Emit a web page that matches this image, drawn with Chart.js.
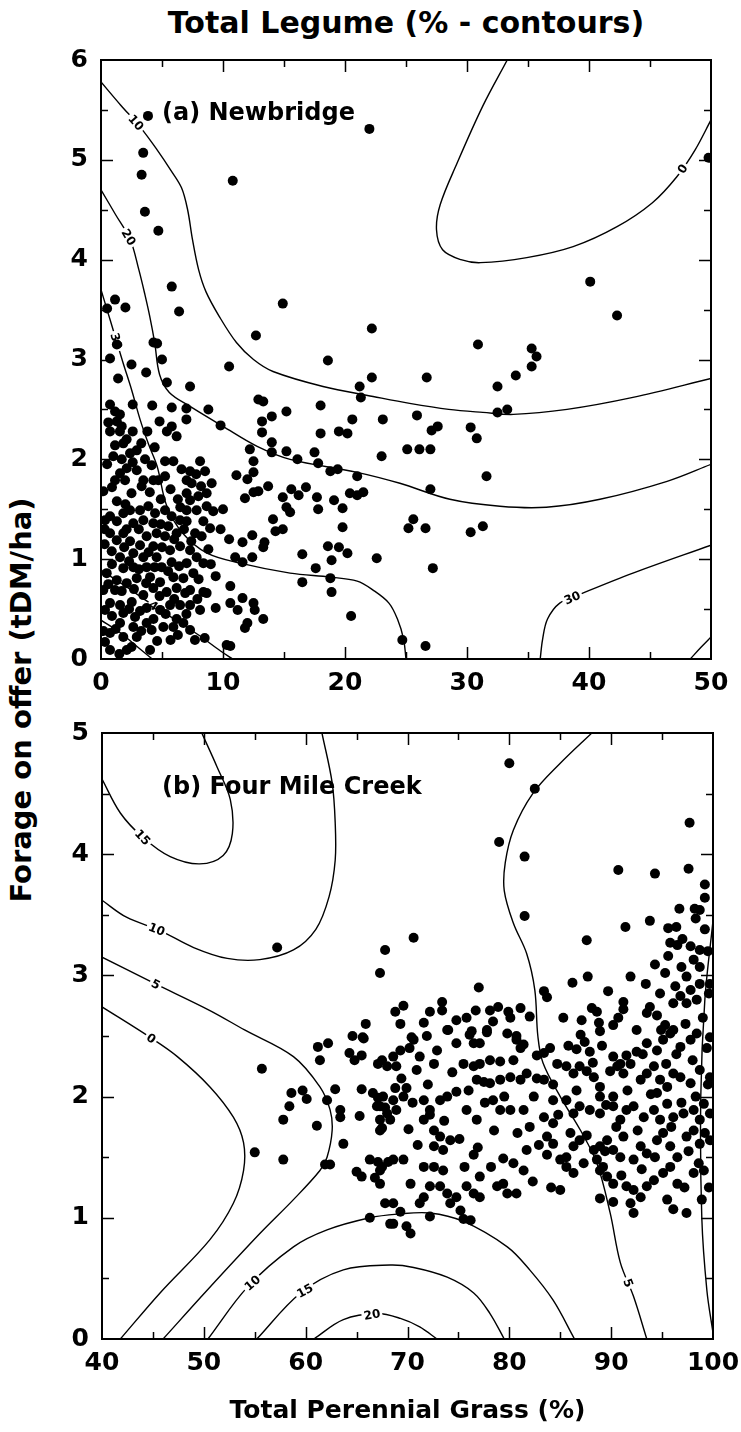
<!DOCTYPE html>
<html>
<head>
<meta charset="utf-8">
<script src="https://cdn.jsdelivr.net/npm/chart.js@4.4.1/dist/chart.umd.min.js"></script>
<style>
  body { margin: 0; background: #fff; }
  #page { position: relative; width: 741px; height: 1432px; overflow: hidden; font-family: "DejaVu Sans", sans-serif; }
  #title { position: absolute; left: 406px; top: 5px; transform: translateX(-50%); font-weight: bold; font-size: 30px; white-space: nowrap; }
  #ylab { position: absolute; left: 21px; top: 700px; transform: translate(-50%, -50%) rotate(-90deg); font-weight: bold; font-size: 29px; white-space: nowrap; }
  canvas { position: absolute; left: 0; }
</style>
</head>
<body>
<div id="page">
  <div id="title">Total Legume (% - contours)</div>
  <div id="ylab">Forage on offer (tDM/ha)</div>
  <canvas id="newbridge" width="741" height="705" style="top:0"></canvas>
  <canvas id="fourmile" width="741" height="727" style="top:705px"></canvas>
</div>
<script>
const FONT = '"DejaVu Sans", sans-serif';

// Newbridge sites: [total perennial grass %, forage on offer t DM/ha]
const newbridgePts = [
  [3.85,5.44],[22.0,5.31],[3.46,5.07],[3.33,4.85],[10.8,4.79],[3.6,4.48],[4.7,4.29],[5.8,3.73],[14.9,3.56],
  [1.15,3.6],[0.5,3.51],[2.0,3.52],[6.4,3.48],[22.2,3.31],[12.7,3.24],[1.3,3.15],[4.3,3.17],[4.6,3.16],
  [49.8,5.02],[40.1,3.78],[42.3,3.44],[30.9,3.15],[35.3,3.11],[35.7,3.03],[35.3,2.93],
  [26.7,2.82],[34.0,2.84],[32.5,2.73],[32.5,2.47],[33.3,2.5],[25.9,2.44],[27.1,2.29],[27.6,2.33],[30.3,2.32],
  [30.8,2.21],[25.1,2.1],[26.1,2.1],[27.0,2.1],[31.6,1.83],[27.0,1.7],[25.6,1.4],[25.2,1.31],[26.6,1.31],
  [30.3,1.27],[31.3,1.33],[27.2,0.91],[26.6,0.13],[24.7,0.19],
  [18.6,2.99],[22.2,2.82],[21.2,2.73],[21.3,2.62],[10.5,2.93],[7.3,2.73],[5.4,2.77],[5.0,3.0],[0.74,3.01],
  [2.5,2.95],[3.7,2.87],[1.4,2.81],[2.6,2.55],[4.2,2.54],[5.8,2.52],[7.0,2.51],[0.74,2.55],[1.15,2.48],
  [1.55,2.45],[0.6,2.37],[1.3,2.38],[1.7,2.33],[0.74,2.28],[1.55,2.28],[2.6,2.28],[3.8,2.28],[4.8,2.38],
  [5.8,2.33],[6.2,2.23],[7.0,2.4],[5.4,2.28],[8.8,2.5],[9.8,2.34],[12.9,2.6],[13.3,2.58],[15.2,2.48],
  [14.0,2.43],[13.2,2.38],[13.2,2.27],[14.0,2.17],[18.0,2.54],[20.6,2.4],[23.1,2.4],[19.5,2.28],[20.2,2.26],
  [18.0,2.26],[23.0,2.03],[12.2,2.1],[12.5,1.98],[14.0,2.07],[15.2,2.08],[16.1,2.0],[17.5,2.07],[17.8,1.96],
  [18.8,1.88],[19.4,1.9],[21.0,1.83],[11.1,1.84],[12.0,1.8],[12.5,1.87],[11.8,1.61],[12.5,1.67],[12.9,1.68],
  [13.7,1.73],[14.9,1.62],[15.6,1.7],[16.2,1.64],[16.8,1.72],[15.2,1.52],[15.5,1.47],[17.7,1.62],[17.8,1.5],
  [19.1,1.59],[19.8,1.51],[20.4,1.66],[21.0,1.64],[21.5,1.67],[10.0,1.5],[14.1,1.4],[14.3,1.28],[14.9,1.3],
  [19.8,1.32],[9.8,1.3],[10.5,1.2],[12.4,1.24],[11.6,1.17],[13.4,1.17],[13.3,1.12],[18.6,1.13],[19.5,1.12],
  [20.2,1.06],[22.6,1.01],[18.9,0.99],[11.0,1.02],[11.6,0.97],[12.4,1.02],[16.5,1.05],[17.6,0.91],[16.5,0.77],
  [18.8,0.81],[18.9,0.67],[20.5,0.43],[9.4,0.83],[10.6,0.73],[11.6,0.61],[12.5,0.56],[12.6,0.49],[10.6,0.56],
  [11.2,0.49],[12.0,0.36],[11.8,0.31],[13.3,0.4],[9.4,0.51],[8.5,0.21],[10.3,0.14],[10.6,0.13],[7.7,0.19],[5.7,0.19],
  [1.15,2.14],[1.83,2.16],[1.01,2.03],[1.70,2.0],[2.38,2.06],[2.93,2.09],[3.61,2.0],[2.11,1.91],[1.56,1.86],
  [2.93,1.89],[1.15,1.79],[3.47,1.79],[1.97,1.79],[0.19,1.68],[3.33,1.73],[4.29,1.79],[4.70,1.79],[5.25,1.83],
  [5.93,1.98],[5.25,1.98],[4.15,1.94],[8.12,1.98],[8.53,1.88],[7.30,1.88],[7.02,1.79],[7.43,1.76],[9.07,1.76],
  [7.02,1.66],[7.30,1.59],[7.98,1.63],[8.66,1.66],[7.84,1.49],[7.02,1.49],[8.66,1.53],[0.74,1.43],[0.33,1.39],
  [1.83,1.46],[2.38,1.49],[3.20,1.49],[3.88,1.53],[4.43,1.46],[2.65,1.36],[3.47,1.39],[4.29,1.36],[5.25,1.49],
  [5.79,1.43],[6.48,1.39],[5.52,1.33],[6.20,1.26],[7.02,1.38],[8.39,1.38],[8.94,1.31],[7.71,1.26],[8.25,1.23],
  [5.25,1.23],[3.74,1.23],[4.56,1.26],[1.83,1.26],[0.74,1.26],[1.29,1.19],[2.38,1.18],[3.20,1.14],[4.29,1.13],
  [0.88,1.08],[1.56,1.02],[2.65,1.06],[3.47,1.02],[4.56,1.02],[5.66,1.09],[6.48,1.13],[7.30,1.09],[7.84,1.02],
  [8.39,0.96],[7.02,0.96],[5.79,0.97],[4.97,0.92],[3.74,0.92],[2.65,0.92],[1.83,0.91],[0.47,0.86],[1.29,0.79],
  [2.11,0.76],[2.93,0.81],[4.02,0.82],[4.84,0.77],[5.93,0.82],[6.75,0.81],[7.57,0.86],[4.29,0.71],[5.38,0.67],
  [6.20,0.71],[7.30,0.69],[8.39,0.67],[1.15,0.69],[0.19,0.69],[3.47,0.64],[2.52,0.57],[1.56,0.54],[0.74,0.56],
  [0.33,0.49],[1.83,0.46],[2.79,0.42],[3.74,0.51],[4.84,0.49],[5.66,0.54],[6.48,0.54],[7.30,0.54],[8.12,0.49],
  [8.66,0.66],[3.74,0.36],[2.65,0.32],[1.56,0.36],[0.74,0.26],[1.83,0.22],[2.93,0.22],[4.15,0.29],[5.11,0.32],
  [5.93,0.32],[6.75,0.36],[7.30,0.29],[0.74,0.09],[2.11,0.09],[4.02,0.09],[0.33,0.17],
  [2.1,2.2],[3.3,2.16],[4.4,2.12],[0.5,1.95],[2.6,1.97],[6.6,1.9],[7.8,1.85],[0.9,1.72],[2.5,1.66],[4.0,1.67],
  [5.7,1.7],[6.3,1.6],[8.2,1.73],[1.3,1.58],[2.0,1.55],[4.9,1.6],[6.5,1.52],[9.2,1.48],[0.3,1.3],[1.3,1.38],
  [2.1,1.3],[3.1,1.3],[4.9,1.35],[6.8,1.3],[7.4,1.18],[0.3,1.15],[1.9,1.12],[3.9,1.07],[5.0,1.12],[6.0,1.2],
  [8.8,1.1],[0.9,0.95],[2.3,0.98],[3.1,0.9],[4.4,0.92],[5.5,0.88],[6.4,0.93],[8.0,0.8],[9.0,0.95],[0.6,0.75],
  [1.7,0.68],[2.7,0.7],[3.7,0.76],[4.8,0.63],[6.0,0.6],[6.9,0.66],[7.9,0.6],[0.9,0.43],[2.3,0.5],[3.2,0.48],
  [4.3,0.4],[5.3,0.45],[6.2,0.4],[7.0,0.45],[0.2,0.28],[1.2,0.3],[2.5,0.12],[3.3,0.28],[4.6,0.18],[6.3,0.24],[1.5,0.05]
];

// Four Mile Creek sites: [total perennial grass %, forage on offer t DM/ha]
const fourMilePts = [
  [61.2,2.41],[61.4,2.30],[65.7,2.48],[55.7,2.23],[58.6,2.03],[59.7,2.05],[60.1,1.98],[62.1,1.97],[62.9,2.06],
  [58.4,1.92],[57.8,1.81],[61.1,1.76],[63.4,1.89],[63.4,1.83],[63.7,1.61],[55.0,1.54],[57.8,1.48],[61.9,1.44],
  [62.4,1.44],[64.8,2.30],[65.5,2.34],[67.1,2.27],[67.5,2.30],[65.5,2.06],[66.6,2.03],[67.1,1.99],[67.0,1.92],
  [67.8,1.91],[67.3,1.81],[67.5,1.74],[65.3,1.84],[66.3,1.48],[67.1,1.46],[67.5,1.42],[68.1,1.46],[65.0,1.38],
  [65.5,1.34],[66.8,1.33],[66.3,1.00],[68.3,0.95],
  [57.2,3.23],[67.8,3.21],[67.3,3.02],[65.6,2.49],[62.2,2.44],[64.3,2.36],[64.6,2.5],[65.9,2.6],[68.8,2.7],
  [69.3,2.6],[70.2,2.4],[72.2,2.7],[71.9,2.5],[69.6,2.75],
  [80.0,4.75],[82.5,4.54],[79.0,4.10],[81.5,3.98],[81.5,3.49],[97.7,4.26],[90.7,3.87],[94.3,3.84],[97.6,3.88],
  [99.2,3.75],[99.2,3.64],[96.7,3.55],[98.7,3.54],[98.3,3.47],[91.4,3.40],[93.8,3.45],[99.2,3.38],[95.6,3.39],
  [96.4,3.40],[87.6,3.29],[95.8,3.27],[96.5,3.25],[97.8,3.24],[98.7,3.21],[70.6,3.31],[95.6,3.16],[98.1,3.13],
  [98.7,3.07],[94.3,3.09],[95.3,3.02],[96.9,3.07],[97.4,2.99],[99.7,2.93],[91.9,2.99],[87.7,2.99],[86.2,2.94],
  [93.4,2.93],[89.7,2.87],[94.8,2.85],[96.3,2.91],[96.8,2.83],[97.8,2.88],[98.7,2.93],[96.1,2.77],[97.4,2.77],
  [98.4,2.8],[99.6,2.85],[83.4,2.87],[83.7,2.82],[77.0,2.90],[73.4,2.78],[73.4,2.71],[71.6,2.61],[76.7,2.71],
  [78.1,2.71],[78.9,2.74],[79.9,2.70],[80.1,2.65],[81.1,2.73],[82.0,2.66],[85.3,2.65],[87.1,2.63],[88.1,2.73],
  [88.6,2.70],[88.8,2.61],[90.2,2.59],[91.2,2.78],[91.2,2.72],[90.7,2.65],[92.5,2.55],[93.5,2.69],[93.8,2.74],
  [94.5,2.67],[95.3,2.59],[96.1,2.55],[74.0,2.55],[74.8,2.63],[75.8,2.65],[76.3,2.54],[77.8,2.55],[78.4,2.62],
  [80.7,2.50],[70.4,2.49],
  [73.9,2.55],[76.1,2.51],[77.8,2.53],[79.8,2.52],[80.7,2.47],[81.1,2.40],[81.4,2.43],[82.7,2.34],[83.4,2.36],
  [87.0,2.51],[88.9,2.54],[86.6,2.39],[87.9,2.37],[90.2,2.33],[90.9,2.27],[91.5,2.34],[92.5,2.37],[93.5,2.44],
  [94.5,2.38],[95.1,2.47],[95.8,2.52],[96.8,2.41],[97.8,2.47],[98.4,2.52],[99.7,2.49],[76.5,2.44],[77.1,2.44],
  [74.8,2.44],[70.6,2.47],[69.3,2.38],[68.6,2.33],[71.2,2.33],[72.9,2.38],[78.1,2.30],[79.1,2.29],[80.4,2.30],
  [68.0,2.25],[68.9,2.25],
  [68.8,2.07],[69.9,2.07],[71.6,1.97],[72.2,1.89],[73.2,1.97],[73.9,2.0],[74.8,2.04],[70.9,2.22],[72.6,2.27],
  [75.5,2.27],[76.5,2.25],[77.1,2.27],[76.8,2.14],[77.5,2.12],[78.1,2.11],[79.1,2.14],[80.1,2.16],[81.1,2.14],
  [81.7,2.19],[82.7,2.15],[83.4,2.14],[84.3,2.10],[84.7,2.27],[85.6,2.25],[86.3,2.19],[86.9,2.25],[87.6,2.21],
  [88.3,2.16],[88.9,2.08],[89.9,2.21],[90.6,2.25],[91.2,2.19],[91.9,2.27],[92.9,2.14],[93.5,2.19],[94.2,2.25],
  [94.8,2.14],[95.5,2.08],[96.1,2.19],[96.8,2.16],[97.8,2.11],[98.7,2.22],[99.7,2.16],[67.6,2.0],[67.3,1.92],
  [68.6,1.97],[69.6,2.0],
  [68.9,1.89],[68.0,1.86],[71.6,1.81],[72.2,1.85],[75.8,1.89],[76.8,1.81],[78.4,1.97],[79.1,1.89],[80.1,1.89],
  [81.4,1.89],[82.0,1.75],[83.4,1.83],[84.3,1.78],[85.6,1.97],[86.3,1.86],[86.9,1.92],[87.9,1.89],[88.9,1.86],
  [90.2,1.92],[90.9,1.81],[91.5,1.89],[92.2,1.92],[93.2,1.83],[94.2,1.89],[94.8,1.81],[95.5,1.94],[96.1,1.83],
  [97.1,1.86],[98.1,1.89],[98.7,1.81],[99.7,1.86],[88.9,2.0],[90.2,2.0],[84.3,1.97],[94.5,2.03],[99.1,1.94],
  [67.3,1.72],[68.3,1.81],[72.6,1.72],[73.2,1.67],[74.2,1.64],[73.5,1.56],[72.6,1.59],[76.5,1.52],[77.1,1.34],
  [79.4,1.49],[81.7,1.56],[81.4,1.39],[83.7,1.67],[84.3,1.61],[83.7,1.52],[85.6,1.50],[86.3,1.59],[86.9,1.64],
  [87.6,1.68],[88.3,1.56],[88.9,1.59],[89.6,1.64],[90.2,1.56],[90.9,1.50],[91.2,1.67],[92.2,1.48],[92.9,1.59],
  [93.5,1.53],[94.5,1.64],[95.1,1.70],[95.8,1.59],[96.5,1.50],[97.4,1.67],[98.1,1.72],[98.7,1.61],[99.7,1.64],
  [88.6,1.48],[89.2,1.42],
  [68.6,1.48],[69.6,1.48],[71.6,1.42],[72.6,1.42],[73.5,1.39],[67.3,1.39],[70.3,1.28],[72.2,1.26],[73.2,1.26],
  [73.9,1.20],[74.8,1.17],[75.8,1.26],[76.5,1.20],[77.1,1.17],[78.8,1.26],[79.4,1.28],[79.8,1.20],[80.7,1.20],
  [85.0,1.48],[85.6,1.42],[86.3,1.37],[85.0,1.23],[88.9,1.39],[89.6,1.34],[90.2,1.28],[91.5,1.26],[92.2,1.23],
  [92.9,1.17],[93.5,1.26],[94.2,1.31],[95.1,1.37],[95.8,1.42],[96.5,1.28],[95.5,1.15],[96.1,1.07],[97.4,1.04],
  [88.9,1.16],[90.2,1.13],[91.9,1.12],[92.2,1.04],[98.1,1.37],[99.1,1.39],
  [68.6,1.12],[69.3,1.05],[71.2,1.12],[71.6,1.17],[72.2,1.01],[74.2,1.12],[75.2,1.06],[75.5,0.99],[76.2,0.98],
  [68.6,0.95],[69.9,0.93],[70.3,0.87],[67.3,1.28],[67.8,1.12],
  [85.8,2.42],[86.6,2.05],[87.4,2.45],[88.2,2.28],[89.1,2.42],[89.5,1.93],[90.5,1.75],[91.6,2.05],[92.6,1.72],
  [93.1,2.35],[93.9,2.02],[94.3,1.5],[94.9,2.55],[95.4,2.27],[95.9,1.75],[96.4,2.35],[96.9,1.95],[97.3,2.6],
  [97.6,1.55],[98.0,2.3],[98.3,2.0],[98.6,1.45],[99.0,2.65],[99.4,2.4],[99.6,1.25],[97.2,1.25],[93.0,1.4],
  [91.0,1.35],[89.4,1.55],[87.3,1.45],[86.0,1.7],[84.8,1.85],[84.0,2.4],[82.4,2.0],[82.9,1.6],[80.8,1.7],
  [79.5,2.0],[78.5,1.72],[77.6,1.95],[76.0,2.05],[75.1,1.65],[74.4,2.2],[73.6,1.8],[71.0,1.6],[70.1,1.73],
  [69.4,2.15],[70.5,1.95],[72.0,2.1],[75.6,1.42],[76.9,1.58],[78.2,1.42],[80.4,1.45],[82.3,1.3],[84.1,1.25],
  [97.0,3.3],[98.2,3.55],[99.5,3.2],[99.5,2.1],[99.2,1.7],[98.9,1.15]
];

// legume contour lines (%), traced as [grass, forage]
const nbLeg0 = [[33.3,6.0],[31.3,5.54],[29.2,4.97],[27.8,4.55],[27.5,4.3],[28.0,4.1],[29.5,4.0],[31.1,3.97],
  [34.9,4.02],[38.7,4.13],[42.3,4.33],[45.2,4.57],[47.2,4.83],[48.7,5.1],[50,5.4]];
const nbLeg10 = [[0,5.78],[1.6,5.55],[3.2,5.33],[4.6,5.1],[5.7,4.9],[6.6,4.72],[7.1,4.5],[7.5,4.2],[8.0,3.9],
  [8.6,3.68],[9.7,3.43],[11.1,3.17],[12.5,3.0],[14.1,2.88],[18.2,2.73],[22.3,2.63],[25.3,2.56],[28.5,2.5],
  [31.3,2.47],[33.8,2.45],[38.2,2.5],[43.6,2.62],[50,2.81]];
const nbLeg20 = [[0,4.7],[1.2,4.45],[2.4,4.2],[3.1,3.9],[3.6,3.65],[4.0,3.43],[4.4,3.17],[4.8,2.85],[5.6,2.67],
  [7.3,2.53],[10.0,2.33],[12.8,2.13],[15.5,2.0],[21.0,1.87],[24.5,1.76],[28.6,1.6],[32.7,1.53],[36.5,1.52],
  [40.9,1.6],[46.4,1.78],[50,1.95]];
const nbLeg30 = [[0,3.7],[0.74,3.4],[1.8,2.97],[2.5,2.7],[3.2,2.4],[3.9,2.15],[4.6,1.93],[5.4,1.53],[6.7,1.26],
  [8.7,1.06],[11.4,0.96],[15.5,0.86],[18.8,0.82],[21.0,0.78],[22.3,0.69],[23.6,0.56],[24.3,0.4],[24.8,0.2],[25,0]];
const nbLeg40 = [[0,0.89],[2,0.73],[4,0.56],[6,0.4],[8,0.24],[9.8,0.08],[10.8,0]];
const nbLeg50 = [[0,0.39],[1.5,0.27],[3,0.12],[4.2,0]];
const nbLeg30b = [[36,0],[36.2,0.2],[36.6,0.4],[37.6,0.56],[39.3,0.65],[43.6,0.86],[50,1.14]];
const nbLeg20b = [[48.3,0],[49.2,0.12],[50,0.22]];

const fmLeg15 = [[49.8,5.0],[51.3,4.72],[52.6,4.45],[52.8,4.17],[51.9,3.99],[49.6,3.92],[46.7,3.98],[44.0,4.14],
  [41.8,4.34],[40,4.62]];
const fmLeg10 = [[40,3.62],[42.4,3.48],[45.7,3.37],[49,3.23],[52.3,3.14],[55.5,3.13],[58.8,3.21],[61.0,3.38],
  [62.3,3.65],[62.9,3.95],[62.9,4.26],[62.6,4.59],[61.6,5.0]];
const fmLeg5 = [[40,3.15],[45,2.94],[50.6,2.71],[54,2.55],[58.8,2.33],[61.4,2.08],[62.4,1.89],[62.6,1.72],
  [62.1,1.5],[61.4,1.39],[58.8,1.15],[55.5,0.87],[50.3,0.4],[46,0]];
const fmLeg0 = [[40,2.74],[44.7,2.49],[47.4,2.33],[50.6,2.08],[52.9,1.83],[53.9,1.62],[53.9,1.39],[52.9,1.12],
  [50.6,0.82],[45.7,0.38],[41.8,0]];
const fmLeg10b = [[50.4,0],[54.3,0.43],[58.8,0.76],[62.1,0.9],[66.3,1.0],[69,1.03],[72.2,1.04],[75.5,0.97],
  [79.8,0.76],[82,0.57],[84.3,0.32],[86.4,0]];
const fmLeg15b = [[55.2,0],[59.5,0.38],[63.7,0.57],[68.3,0.61],[70.6,0.59],[73.9,0.51],[76.5,0.38],[78.1,0.21],[79.5,0]];
const fmLeg20 = [[60.8,0],[63.7,0.16],[67.0,0.21],[69.3,0.17],[71.2,0.1],[72.9,0]];
const fmLeg5b = [[88.1,5.0],[85,4.75],[82.3,4.5],[80.4,4.2],[79.6,3.93],[79.5,3.7],[80.4,3.43],[81.7,3.18],
  [82.5,2.88],[82.8,2.5],[83.3,2.28],[85,2.0],[87,1.72],[88.6,1.45],[89.9,1.04],[90.9,0.63],[92.2,0.35],[93.5,0]];
const fmLeg0b = [[100,3.45],[99.2,2.8],[98.8,2.0],[98.9,1.0],[99.4,0.4],[100,0.05]];

function dots(data) {
  return { data, pointRadius: 5, pointHoverRadius: 5, backgroundColor: '#000', borderWidth: 0, showLine: false };
}

// labelAt is a (fractional) vertex index along the line
function contour(data, label, labelAt) {
  return { data, showLine: true, borderColor: '#000', borderWidth: 1.4, pointRadius: 0, tension: 0.35,
    fill: false, contourLabel: label, labelAt };
}

function drawContourLabels(chart) {
  const ctx = chart.ctx;
  chart.data.datasets.forEach((ds, i) => {
    if (!ds.contourLabel) return;
    const pts = chart.getDatasetMeta(i).data;
    const k = Math.min(Math.floor(ds.labelAt), pts.length - 2);
    const t = ds.labelAt - k;
    const p0 = pts[k], p1 = pts[k + 1];
    const x = p0.x + (p1.x - p0.x) * t;
    const y = p0.y + (p1.y - p0.y) * t;
    let ang = Math.atan2(p1.y - p0.y, p1.x - p0.x);
    if (ang > Math.PI / 2) ang -= Math.PI;
    if (ang < -Math.PI / 2) ang += Math.PI;
    ctx.save();
    ctx.translate(x, y);
    ctx.rotate(ang);
    ctx.font = 'bold 12px ' + FONT;
    ctx.textAlign = 'center';
    ctx.textBaseline = 'middle';
    const w = ctx.measureText(ds.contourLabel).width;
    ctx.fillStyle = '#fff';
    ctx.fillRect(-w / 2 - 2, -6, w + 4, 12);
    ctx.fillStyle = '#000';
    ctx.fillText(ds.contourLabel, 0, 1);
    ctx.restore();
  });
}

// frame, inward tick marks on all four sides, contour labels and panel caption
const panelFrame = {
  id: 'panelFrame',
  beforeDatasetDraw(chart, args) {
    if (args.index === 0) drawContourLabels(chart);
  },
  afterDatasetsDraw(chart, args, opts) {
    const { ctx, chartArea: a, scales: { x, y } } = chart;
    ctx.save();
    ctx.strokeStyle = '#000';
    ctx.lineWidth = 1.5;
    ctx.beginPath();
    for (let v = x.min + opts.xStep; v < x.max - 1e-6; v += opts.xStep) {
      const px = Math.round(x.getPixelForValue(v)) + 0.5;
      const len = Math.abs(v % opts.xMajor) < 1e-6 ? 12 : 7;
      ctx.moveTo(px, a.bottom); ctx.lineTo(px, a.bottom - len);
      ctx.moveTo(px, a.top); ctx.lineTo(px, a.top + len);
    }
    for (let v = y.min + opts.yStep; v < y.max - 1e-6; v += opts.yStep) {
      const py = Math.round(y.getPixelForValue(v)) + 0.5;
      const len = Math.abs(v - Math.round(v)) < 1e-6 ? 12 : 7;
      ctx.moveTo(a.left, py); ctx.lineTo(a.left + len, py);
      ctx.moveTo(a.right, py); ctx.lineTo(a.right - len, py);
    }
    ctx.stroke();
    ctx.lineWidth = 2;
    ctx.strokeRect(a.left, a.top, a.right - a.left, a.bottom - a.top);
    ctx.font = 'bold 24px ' + FONT;
    ctx.fillStyle = '#000';
    ctx.textBaseline = 'middle';
    ctx.textAlign = 'left';
    ctx.fillText(opts.caption, x.getPixelForValue(opts.captionAt[0]), y.getPixelForValue(opts.captionAt[1]));
    ctx.restore();
  }
};

function axes(xr, yr, yWidth, xHeight, xTitle) {
  const tickFont = { family: FONT, size: 25, weight: 'bold' };
  return {
    x: {
      type: 'linear', min: xr[0], max: xr[1],
      grid: { display: false, drawTicks: false }, border: { display: false },
      ticks: { stepSize: 10, color: '#000', font: tickFont, padding: 9, maxRotation: 0 },
      title: xTitle ? { display: true, text: xTitle, color: '#000', font: { family: FONT, size: 25, weight: 'bold' },
        padding: { top: 0, bottom: 6 } } : { display: false },
      // end labels may hang past the frame; keep the plot width fixed
      afterFit(s) { s.height = xHeight; s.paddingLeft = 0; s.paddingRight = 0; }
    },
    y: {
      type: 'linear', min: yr[0], max: yr[1],
      grid: { display: false, drawTicks: false }, border: { display: false },
      ticks: { stepSize: 1, color: '#000', font: tickFont, padding: 13 },
      afterFit(s) { s.width = yWidth; s.paddingTop = 0; s.paddingBottom = 0; }
    }
  };
}

function baseOptions(scales, padding, frame) {
  return {
    responsive: false, animation: false, devicePixelRatio: 1,
    layout: { padding },
    scales,
    plugins: { legend: { display: false }, tooltip: { enabled: false }, panelFrame: frame },
    events: []
  };
}

new Chart(document.getElementById('newbridge'), {
  type: 'scatter',
  data: {
    datasets: [
      dots(newbridgePts),
      contour(nbLeg0, '0', 12.3),
      contour(nbLeg10, '10', 1.8),
      contour(nbLeg20, '20', 1.9),
      contour(nbLeg30, '30', 1.5),
      contour(nbLeg40, '40', 2.3),
      contour(nbLeg50, null, 0),
      contour(nbLeg30b, '30', 3.6),
      contour(nbLeg20b, null, 0)
    ]
  },
  options: baseOptions(axes([0, 50], [0, 6], 101, 46), { top: 60, right: 30, left: 0, bottom: 0 },
    { xStep: 5, xMajor: 10, yStep: 0.5, caption: '(a) Newbridge', captionAt: [5.0, 5.46] }),
  plugins: [panelFrame]
});

new Chart(document.getElementById('fourmile'), {
  type: 'scatter',
  data: {
    datasets: [
      dots(fourMilePts),
      contour(fmLeg15, '15', 7.0),
      contour(fmLeg10, '10', 1.9),
      contour(fmLeg5, '5', 1.05),
      contour(fmLeg0, '0', 1.05),
      contour(fmLeg10b, '10', 1.1),
      contour(fmLeg15b, '15', 1.1),
      contour(fmLeg20, '20', 1.85),
      contour(fmLeg5b, '5', 15.6),
      contour(fmLeg0b, null, 0)
    ]
  },
  options: baseOptions(axes([40, 100], [0, 5], 102, 93, 'Total Perennial Grass (%)'),
    { top: 28, right: 28, left: 0, bottom: 0 },
    { xStep: 5, xMajor: 10, yStep: 0.5, caption: '(b) Four Mile Creek', captionAt: [45.9, 4.55] }),
  plugins: [panelFrame]
});
</script>
</body>
</html>
